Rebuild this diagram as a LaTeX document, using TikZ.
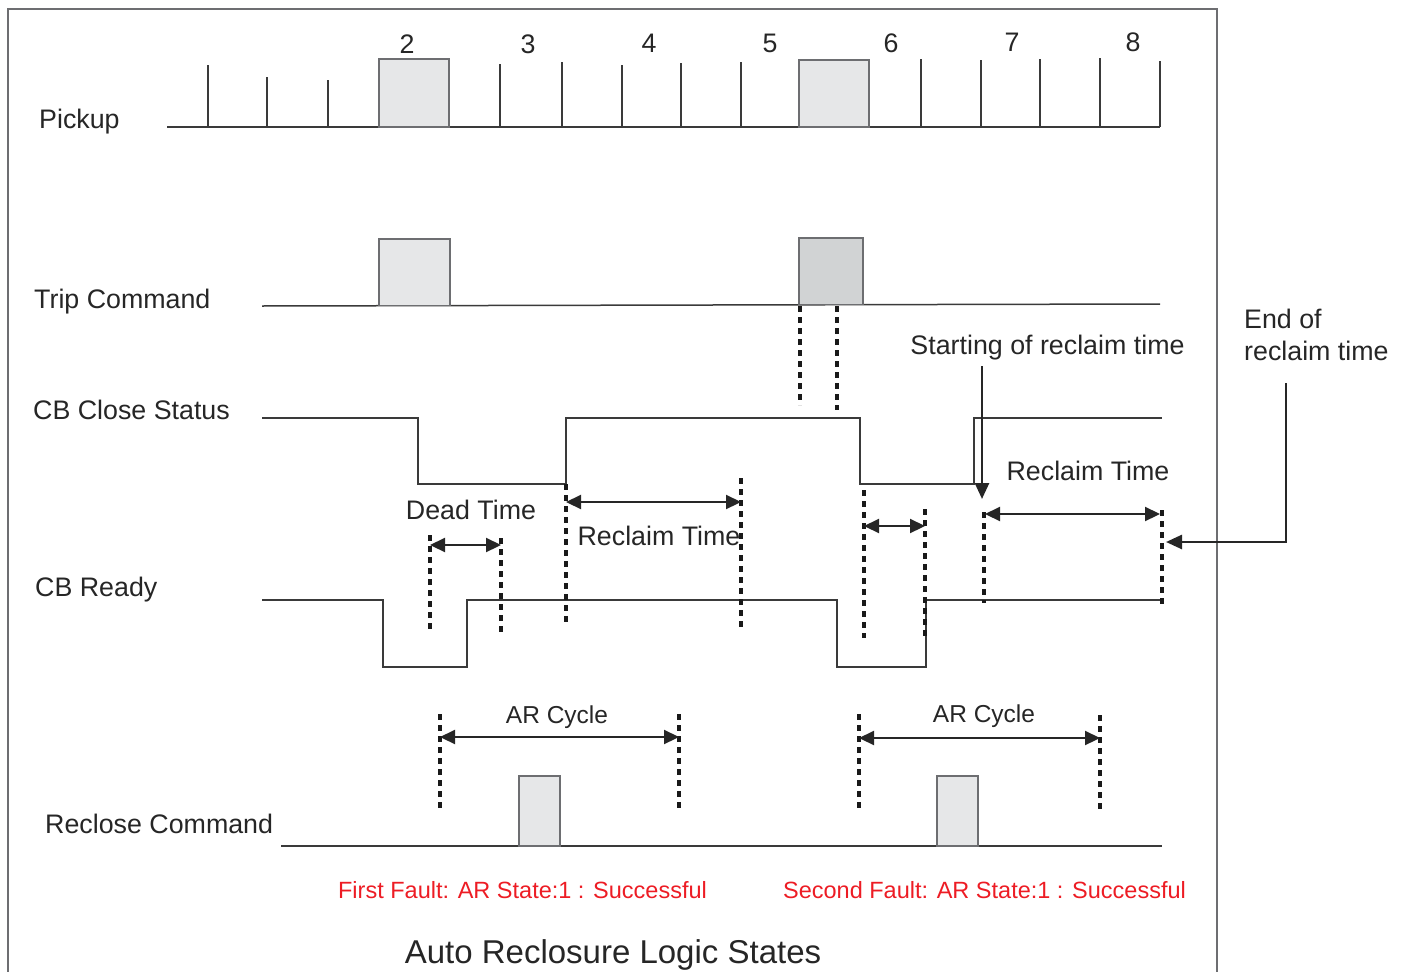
\documentclass[tikz,border=0pt]{standalone}
\usepackage{fontspec}
\setmainfont{Liberation Sans}
\usetikzlibrary{arrows.meta}
\definecolor{sig}{HTML}{3A3A3A}
\definecolor{frm}{HTML}{6D6E71}
\definecolor{boxa}{HTML}{E6E7E8}
\definecolor{boxb}{HTML}{D1D3D4}
\definecolor{redtxt}{HTML}{ED1C24}
\tikzset{
  sigline/.style={draw=sig, line width=1.5pt},
  tickline/.style={draw=sig, line width=1.3pt},
  pulse/.style={draw=frm, line width=1.6pt, fill=boxa},
  pulsedark/.style={draw=frm, line width=1.6pt, fill=boxb},
  dotline/.style={draw=black!90, line width=3.2pt, dash pattern=on 6pt off 5pt},
  dimarrow/.style={draw=black!85, line width=2.2pt, {Triangle[length=15pt,width=14pt]}-{Triangle[length=15pt,width=14pt]}},
  pointer/.style={draw=black!85, line width=2.6pt, -{Triangle[length=16pt,width=14pt]}},
  lbl/.style={inner sep=0pt, font=\fontsize{26.8}{30}\selectfont, text=black!85},
  small/.style={inner sep=0pt, font=\fontsize{24.5}{28}\selectfont, text=black!85},
  redlbl/.style={inner sep=0pt, font=\fontsize{23.5}{28}\selectfont, text=redtxt},
  titlelbl/.style={inner sep=0pt, font=\fontsize{33}{38}\selectfont, text=black!85},
}
\begin{document}
\begin{tikzpicture}[x=1pt,y=-1pt]
\useasboundingbox (0,0) rectangle (1406,972);
% frame
\draw[draw=frm, line width=1.6pt] (8,972) -- (8,9) -- (1217,9) -- (1217,972);

% ---------- Pickup ----------
\node[lbl, anchor=base west] (lpick) at (39,128) {Pickup};
\draw[sigline] (167,127) -- (1160,127);
\foreach \x/\t in {208/65,267/77,328/80,500/64,562/62,622/65,681/63,741/62,921/59,981/60,1040/59,1100/58,1160/61}
  \draw[tickline] (\x,127) -- (\x,\t);
\draw[pulse] (379,127) rectangle (449,59);
\draw[pulse] (799,127) rectangle (869,60);
\foreach \x/\y/\n in {407/53/2,528/53/3,649/52/4,770/52/5,891/52/6,1012/51/7,1133/51/8}
  \node[lbl, anchor=base] (num\n) at (\x,\y) {\n};

% ---------- Trip Command ----------
\node[lbl, anchor=base west] (ltrip) at (34,308) {Trip Command};
\draw[sigline] (262,306) -- (1160,304);
\draw[pulse] (379,305.5) rectangle (450,239);
\draw[pulsedark] (799,304.5) rectangle (863,238);
\draw[dotline] (800,306) -- (800,405);
\draw[dotline] (837,306) -- (837,410);

% ---------- CB Close Status ----------
\node[lbl, anchor=base west] (lclose) at (33,419) {CB Close Status};
\draw[sigline] (262,418) -- (418,418) -- (418,484) -- (566,484) -- (566,418)
  -- (860,418) -- (860,484) -- (974,484) -- (974,418) -- (1162,418);

% ---------- CB Ready ----------
\node[lbl, anchor=base west] (lready) at (35,596) {CB Ready};
\draw[sigline] (262,600) -- (383,600) -- (383,667) -- (467,667) -- (467,600)
  -- (837,600) -- (837,667) -- (926,667) -- (926,600) -- (1162,600);

% dead time 1
\coordinate (d1a) at (430,545); \coordinate (d1b) at (501,545);
\draw[dotline] (430,535) -- (430,632);
\draw[dotline] (501,538) -- (501,636);
\draw[dimarrow] (d1a) -- (d1b);
\node[lbl, anchor=base] (ldead) at (471,519) {Dead Time};

% reclaim time 1
\coordinate (r1a) at (566,502); \coordinate (r1b) at (741,502);
\draw[dotline] (566,484) -- (566,623);
\draw[dotline] (741,478) -- (741,627);
\draw[dimarrow] (r1a) -- (r1b);
\node[lbl, anchor=base] (lrec1) at (659,545) {Reclaim Time};

% dead time 2
\coordinate (d2a) at (864,526); \coordinate (d2b) at (925,526);
\draw[dotline] (864,490) -- (864,638);
\draw[dotline] (925,509) -- (925,640);
\draw[dimarrow] (d2a) -- (d2b);

% reclaim time 2
\coordinate (r2a) at (985,514); \coordinate (r2b) at (1160,514);
\draw[dotline] (984,512) -- (984,603);
\draw[dotline] (1162,510) -- (1162,607);
\draw[dimarrow] (r2a) -- (r2b);
\node[lbl, anchor=base] (lrec2) at (1088,480) {Reclaim Time};

% starting of reclaim time
\node[lbl, anchor=base] (lstart) at (1047.5,354) {Starting of reclaim time};
\coordinate (s0) at (982,366); \coordinate (s1) at (982,499);
\draw[pointer] (s0) -- (s1);

% end of reclaim time
\node[lbl, anchor=base west] (lend1) at (1244,328) {End of};
\node[lbl, anchor=base west] (lend2) at (1244,360) {reclaim time};
\coordinate (e0) at (1286,383); \coordinate (e1) at (1286,542); \coordinate (e2) at (1166,542);
\draw[pointer] (e0) -- (e1) -- (e2);

% ---------- AR cycles ----------
\coordinate (a1a) at (440,737); \coordinate (a1b) at (679,737);
\draw[dotline] (440,714) -- (440,812);
\draw[dotline] (679,714) -- (679,812);
\draw[dimarrow] (a1a) -- (a1b);
\node[small, anchor=base] (lar1) at (557,723) {AR Cycle};

\coordinate (a2a) at (859,738); \coordinate (a2b) at (1100,738);
\draw[dotline] (859,714) -- (859,812);
\draw[dotline] (1100,715) -- (1100,812);
\draw[dimarrow] (a2a) -- (a2b);
\node[small, anchor=base] (lar2) at (984,722) {AR Cycle};

% ---------- Reclose Command ----------
\node[lbl, anchor=base west] (lreclose) at (45,833) {Reclose Command};
\draw[sigline] (281,846) -- (1162,846);
\draw[pulse] (519,846) rectangle (560,776);
\draw[pulse] (937,846) rectangle (978,776);

% ---------- notes ----------
\node[redlbl, anchor=base] (nfirst) at (522.5,898) {First Fault: AR State:1 : Successful};
\node[redlbl, anchor=base] (nsecond) at (984.5,898) {Second Fault: AR State:1 : Successful};
\node[titlelbl, anchor=base] (title) at (613,963) {Auto Reclosure Logic States};
\end{tikzpicture}
\end{document}
